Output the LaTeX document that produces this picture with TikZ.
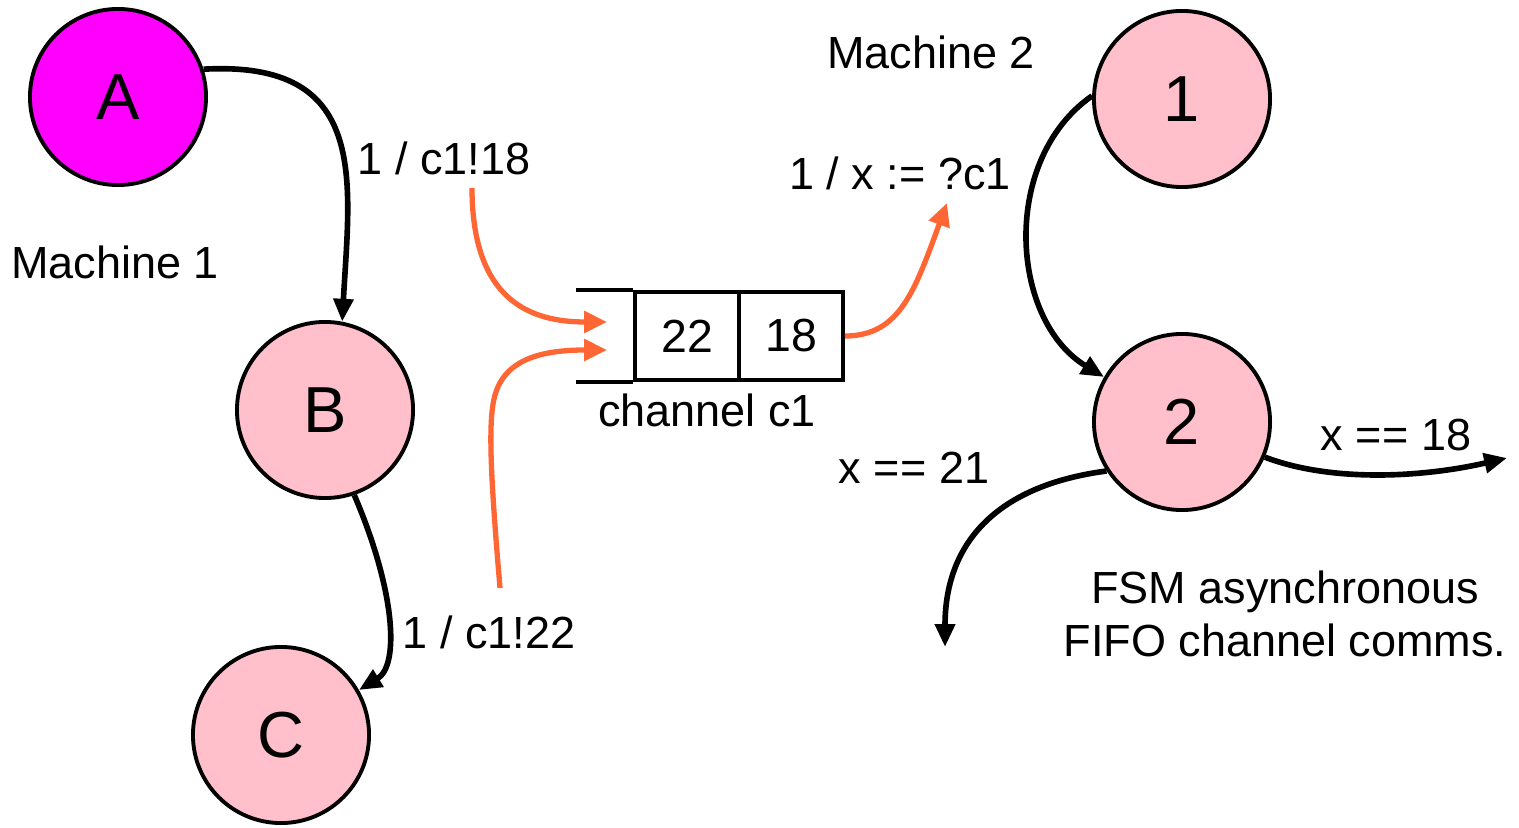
\documentclass[tikz,border=0pt]{standalone}
\usepackage{fontspec}
\setmainfont{Liberation Sans}
\usetikzlibrary{arrows.meta}
\definecolor{statepink}{RGB}{255,192,203}
\definecolor{startmag}{RGB}{255,0,255}
\definecolor{msgorange}{RGB}{255,102,51}

\begin{document}
\begin{tikzpicture}[x=0.01cm, y=-0.01cm,
    state/.style={circle, draw, line width=1.1pt, fill=statepink, minimum size=1.76cm, inner sep=0pt, font=\fontsize{18.5}{21}\selectfont},
    trans/.style={line width=1.6pt, -{Triangle[length=6.5pt,width=5.5pt]}},
    msg/.style={line width=1.5pt, draw=msgorange, -{Triangle[length=6.5pt,width=6pt]}},
    lbl/.style={font=\fontsize{12.8}{15}\selectfont},
    cell/.style={draw, line width=1.1pt, minimum width=1.04cm, minimum height=0.88cm, inner sep=0pt, font=\fontsize{13.2}{15}\selectfont}]
    \useasboundingbox (0,0) rectangle (1519,828);

    % 状态机1
    \node[state, fill=startmag] (A) at (118,97) {A};
    \node[state] (B) at (325,410) {B};
    \node[state] (C) at (281,735) {C};
    \node[lbl] (mach1) at (115,262) {Machine 1};

    % 状态机2
    \node[state] (S1) at (1182,99) {1};
    \node[state] (S2) at (1182,422) {2};
    \node[lbl] (mach2) at (931,52) {Machine 2};

    % 通道c1
    \node[cell] (q22) at (687,336) {22};
    \node[cell] (q18) at (791,336) {18};
    \draw[line width=1.1pt] (q22.north west) -- ++(-57,0);
    \draw[line width=1.1pt] (q22.south west) -- ++(-57,0);
    \node[lbl] (chan) at (707,410) {channel c1};

    % 迁移标签
    \node[lbl] (snd18) at (444,158) {1 / c1!18};
    \node[lbl] (snd22) at (489,632) {1 / c1!22};
    \node[lbl] (rcv) at (900,173) {1 / x := ?c1};
    \node[lbl] (eq21) at (914,468) {x == 21};
    \node[lbl] (eq18) at (1396,435) {x == 18};
    \node[lbl, align=center] (note) at (1285,614) {FSM asynchronous\\FIFO channel comms.};

    % 状态迁移
    \draw[trans] (A.18) .. controls (370,60) and (350,180) .. (B.79);
    \draw[trans] (B.-71) .. controls (395,590) and (400,665) .. (C.30);
    \draw[trans] (S1.178) .. controls (1000,160) and (1010,320) .. (S2.150);
    \coordinate (out18) at (1507,458);
    \coordinate (out21) at (945,647);
    \draw[trans] (S2.-23) .. controls (1330,482) and (1420,478) .. (out18);
    \draw[trans] (S2.-147) .. controls (1000,485) and (945,540) .. (out21);

    % 消息（橙色）
    \coordinate (p18) at (472,188);
    \coordinate (p22) at (500,588);
    \coordinate (in18) at (607,322);
    \coordinate (in22) at (607,350);
    \coordinate (get1) at (947,203);
    \draw[msg] (p18) .. controls (472,300) and (530,322) .. (in18);
    \draw[msg] (p22) .. controls (490,470) and (488,420) .. (495,395) .. controls (505,360) and (540,350) .. (in22);
    \draw[msg] (q18.east) .. controls (900,336) and (915,290) .. (get1);
\end{tikzpicture}
\end{document}
